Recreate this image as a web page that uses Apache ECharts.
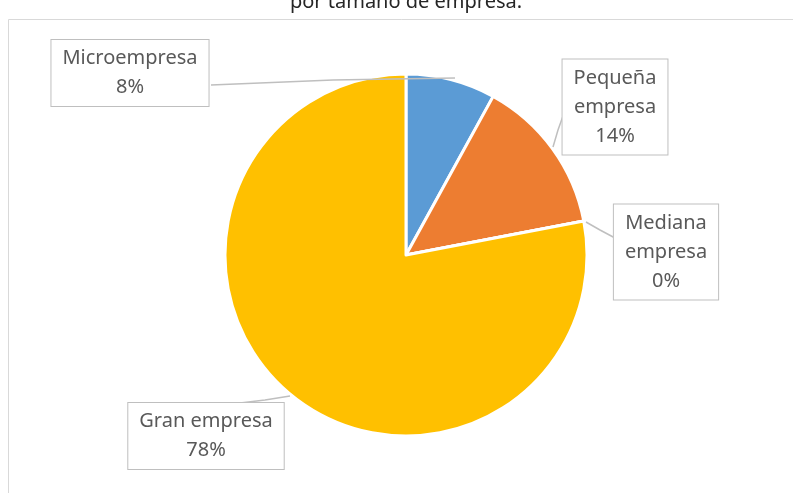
<!DOCTYPE html>
<html>
<head>
<meta charset="utf-8">
<script src="https://cdn.jsdelivr.net/npm/echarts@6/dist/echarts.min.js"></script>
<style>
html,body{margin:0;padding:0;background:#fff;}
#main{width:793px;height:493px;}
</style>
</head>
<body>
<div id="main"></div>
<script>
var titleText = 'por tamaño de empresa.';
var categories = ['Microempresa', 'Pequeña\nempresa', 'Mediana\nempresa', 'Gran empresa'];
var values = [8, 14, 0, 78];
var colors = ['#5B9BD5', '#ED7D31', '#A5A5A5', '#FFC000'];

var labelCenters = [[130, 73], [615, 107], [666, 252], [206, 436]];
var labelLines = [
  [[455, 78], [333, 80], [211, 85]],
  [[553, 147], [558, 130], [563, 116]],
  [[586, 222], [600, 230], [615, 238]],
  [[290, 396], [265, 400], [240, 403]]
];

var chart = echarts.init(document.getElementById('main'));
var data = categories.map(function (c, i) {
  return { name: c, value: values[i], itemStyle: { color: colors[i] } };
});
var overlayData = categories.map(function (c, i) {
  return { name: c, value: values[i] };
});

chart.setOption({
  animation: false,
  graphic: [
    {
      type: 'rect',
      shape: { x: 8.5, y: 19.5, width: 800, height: 500 },
      style: { fill: 'none', stroke: '#d9d9d9', lineWidth: 1 },
      silent: true
    },
    {
      type: 'text',
      style: {
        text: titleText, x: 406, y: 12,
        textAlign: 'center', textVerticalAlign: 'bottom',
        fontFamily: 'Noto Sans', fontSize: 20, fill: '#262626'
      },
      silent: true
    }
  ],
  series: [{
    type: 'pie',
    z: 2,
    center: [406, 255],
    radius: 181,
    startAngle: 90,
    clockwise: true,
    data: data,
    itemStyle: { borderColor: '#ffffff', borderWidth: 3 },
    label: { show: false },
    labelLine: { show: false }
  }, {
    type: 'pie',
    z: 5,
    silent: true,
    center: [406, 255],
    radius: 181,
    startAngle: 90,
    clockwise: true,
    avoidLabelOverlap: false,
    minShowLabelAngle: 0,
    data: overlayData,
    itemStyle: { color: 'rgba(0,0,0,0)', borderWidth: 0 },
    label: {
      show: true,
      formatter: function (p) { return p.name + '\n' + Math.round(p.percent) + '%'; },
      fontFamily: 'Noto Sans',
      fontSize: 20,
      lineHeight: 29,
      color: '#595959',
      align: 'center',
      backgroundColor: '#ffffff',
      borderColor: '#bfbfbf',
      borderWidth: 1,
      padding: [4, 11, 4, 11]
    },
    labelLine: {
      show: true,
      lineStyle: { color: '#bfbfbf', width: 1.5 }
    },
    labelLayout: function (params) {
      var i = params.dataIndex;
      return {
        x: labelCenters[i][0],
        y: labelCenters[i][1],
        align: 'center',
        verticalAlign: 'middle',
        labelLinePoints: labelLines[i]
      };
    }
  }]
});
</script>
</body>
</html>
